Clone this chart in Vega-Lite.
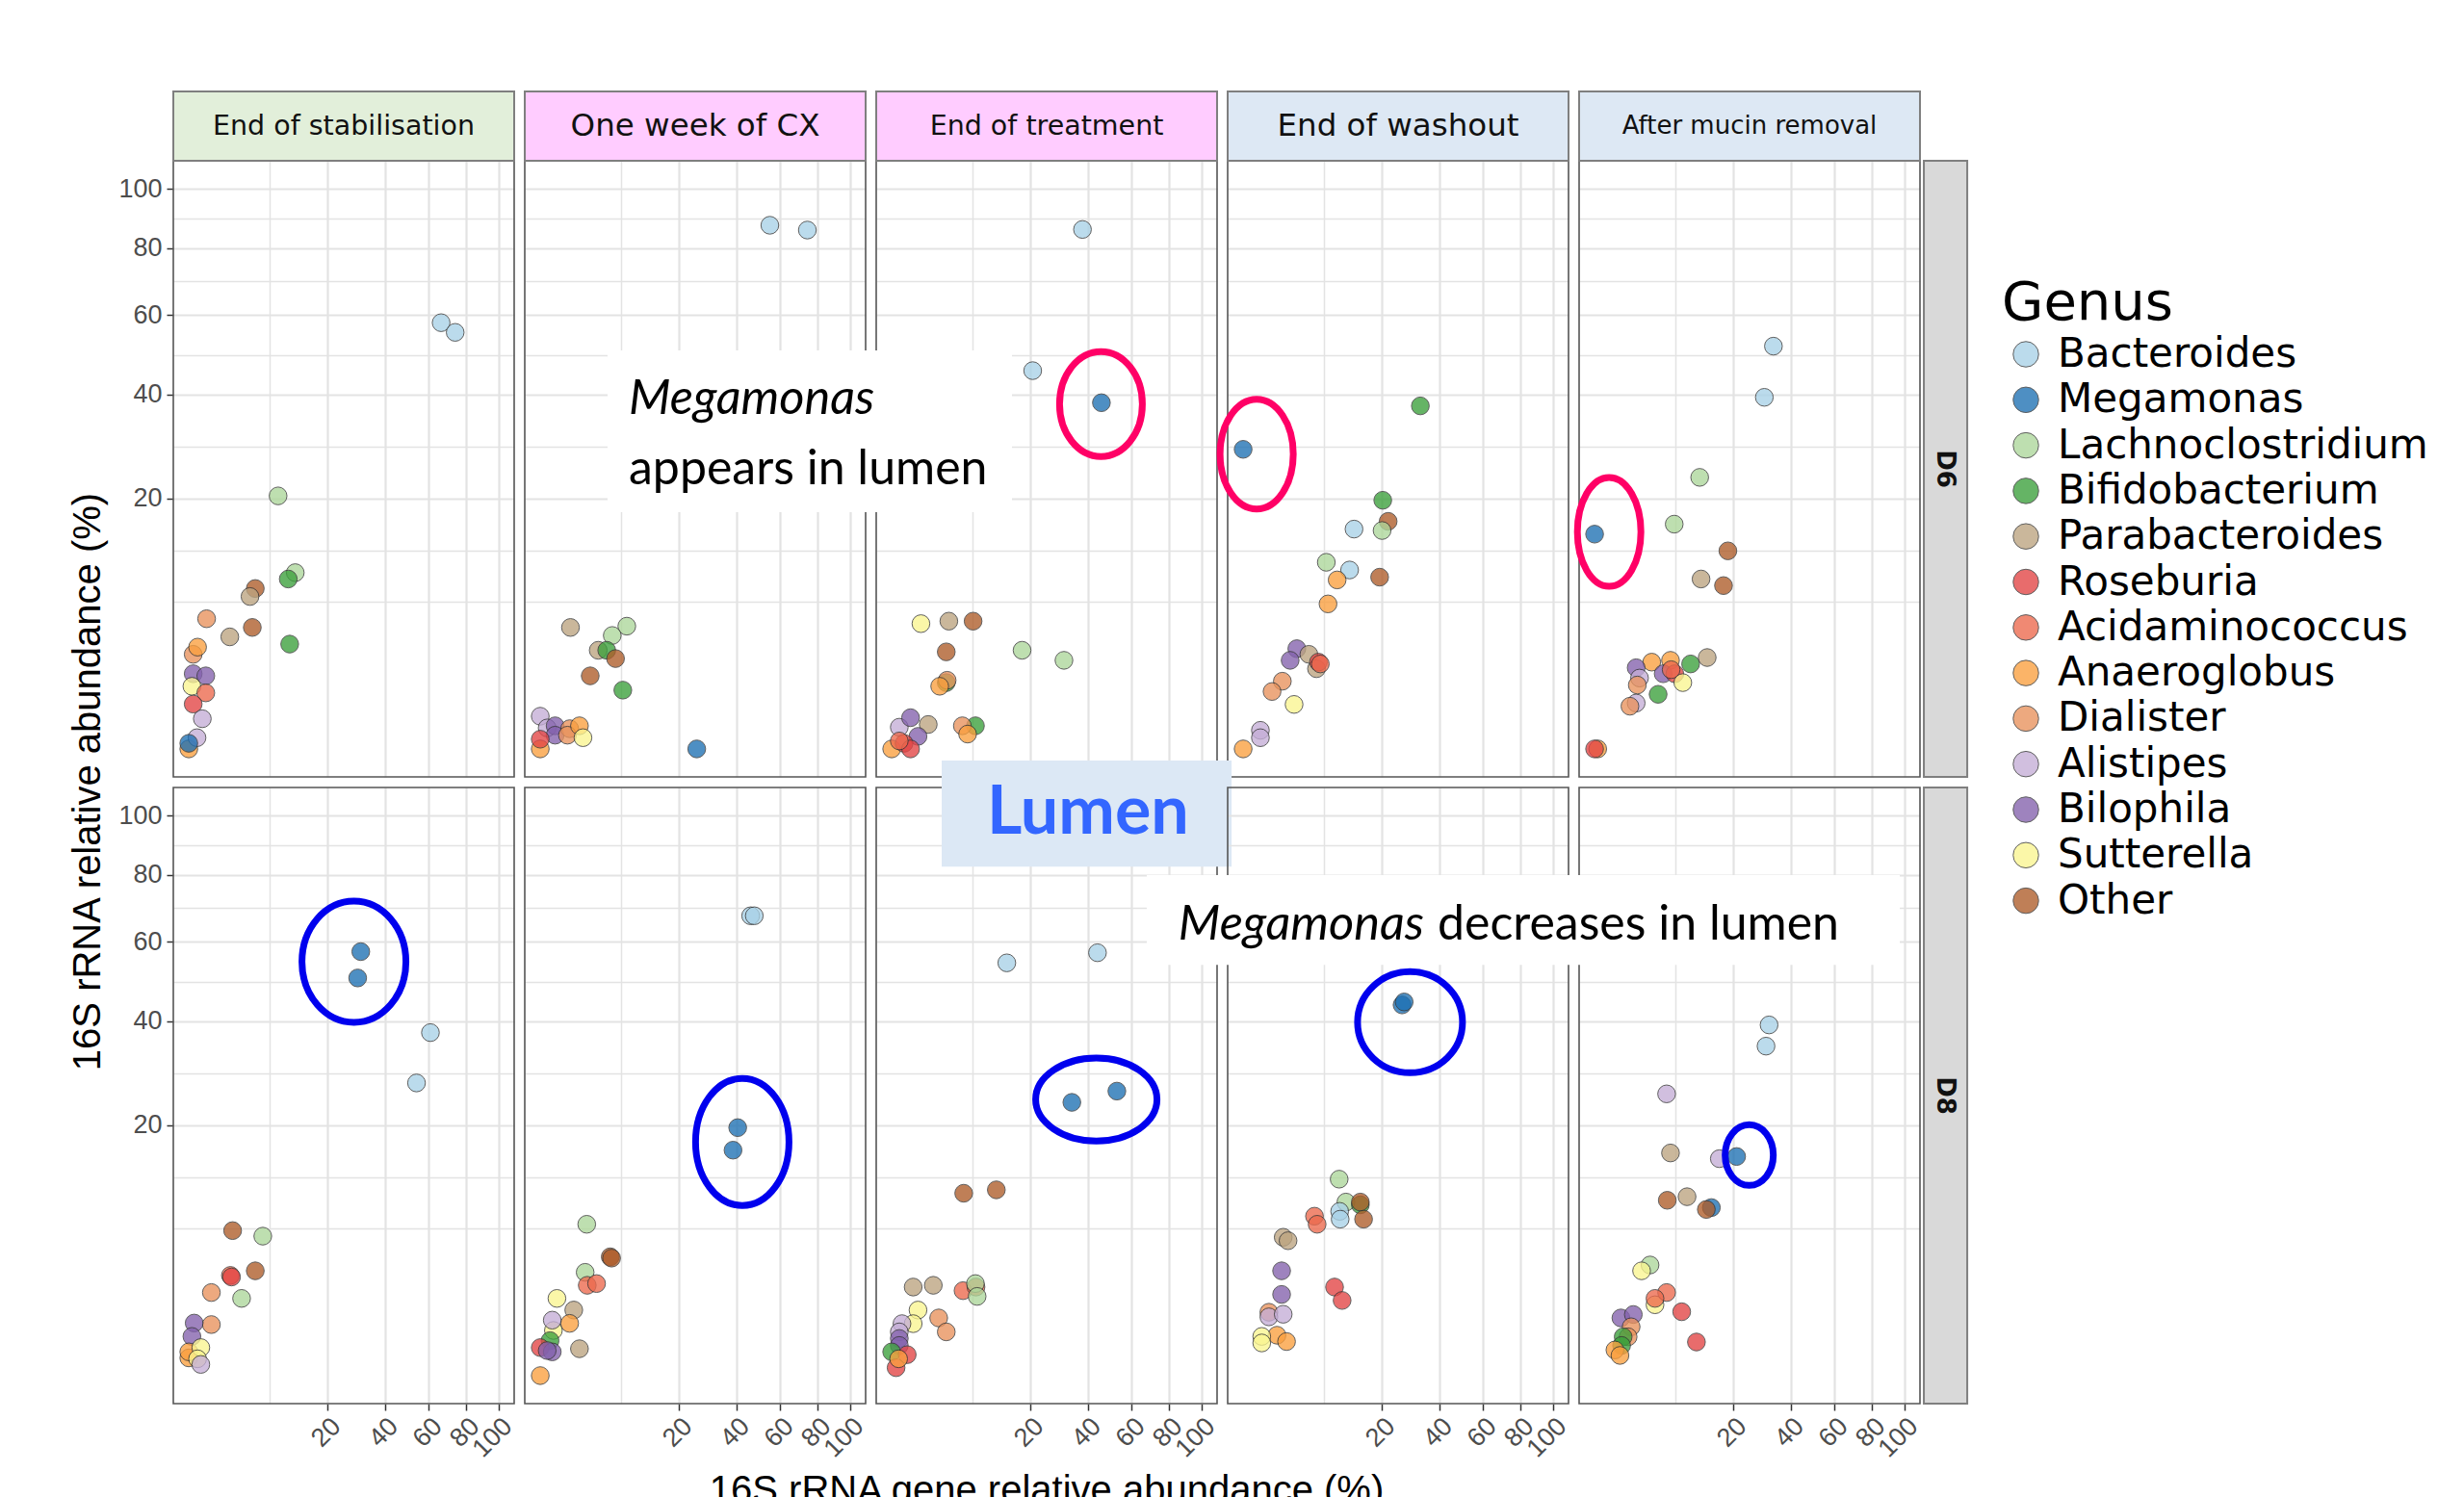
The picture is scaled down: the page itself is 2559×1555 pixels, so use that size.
{
  "$schema": "https://vega.github.io/schema/vega-lite/v6.json",
  "padding": {"left": 71, "top": 93, "right": 0, "bottom": 0},
  "background": "white",
  "data": {"values": [
    {"stage":"End of stabilisation","day":"D6","genus":"Bacteroides","x":66.3,"y":57.9},
    {"stage":"End of stabilisation","day":"D6","genus":"Bacteroides","x":73.9,"y":55.3},
    {"stage":"End of stabilisation","day":"D6","genus":"Lachnoclostridium","x":8.3,"y":20.4},
    {"stage":"End of stabilisation","day":"D6","genus":"Lachnoclostridium","x":11.8,"y":9.9},
    {"stage":"End of stabilisation","day":"D6","genus":"Bifidobacterium","x":10.3,"y":9.2},
    {"stage":"End of stabilisation","day":"D6","genus":"Bifidobacterium","x":10.6,"y":3.5},
    {"stage":"End of stabilisation","day":"D6","genus":"Other","x":4.6,"y":8.2},
    {"stage":"End of stabilisation","day":"D6","genus":"Other","x":4.2,"y":4.7},
    {"stage":"End of stabilisation","day":"D6","genus":"Parabacteroides","x":3.9,"y":7.4},
    {"stage":"End of stabilisation","day":"D6","genus":"Parabacteroides","x":1.75,"y":4.0},
    {"stage":"End of stabilisation","day":"D6","genus":"Dialister","x":0.33,"y":5.4},
    {"stage":"End of stabilisation","day":"D6","genus":"Dialister","x":0.02,"y":2.85},
    {"stage":"End of stabilisation","day":"D6","genus":"Anaeroglobus","x":0.08,"y":3.3},
    {"stage":"End of stabilisation","day":"D6","genus":"Anaeroglobus","x":0,"y":0},
    {"stage":"End of stabilisation","day":"D6","genus":"Bilophila","x":0.02,"y":1.8},
    {"stage":"End of stabilisation","day":"D6","genus":"Bilophila","x":0.3,"y":1.7},
    {"stage":"End of stabilisation","day":"D6","genus":"Sutterella","x":0.01,"y":1.25},
    {"stage":"End of stabilisation","day":"D6","genus":"Acidaminococcus","x":0.3,"y":1.0},
    {"stage":"End of stabilisation","day":"D6","genus":"Roseburia","x":0.02,"y":0.64},
    {"stage":"End of stabilisation","day":"D6","genus":"Alistipes","x":0.19,"y":0.29},
    {"stage":"End of stabilisation","day":"D6","genus":"Alistipes","x":0.07,"y":0.04},
    {"stage":"End of stabilisation","day":"D6","genus":"Megamonas","x":0,"y":0.01},

    {"stage":"One week of CX","day":"D6","genus":"Bacteroides","x":54.9,"y":87.4},
    {"stage":"One week of CX","day":"D6","genus":"Bacteroides","x":74.3,"y":85.8},
    {"stage":"One week of CX","day":"D6","genus":"Parabacteroides","x":0.95,"y":4.7},
    {"stage":"One week of CX","day":"D6","genus":"Parabacteroides","x":3.5,"y":3.1},
    {"stage":"One week of CX","day":"D6","genus":"Lachnoclostridium","x":7.8,"y":4.8},
    {"stage":"One week of CX","day":"D6","genus":"Lachnoclostridium","x":5.4,"y":4.1},
    {"stage":"One week of CX","day":"D6","genus":"Bifidobacterium","x":4.6,"y":3.1},
    {"stage":"One week of CX","day":"D6","genus":"Bifidobacterium","x":7.1,"y":1.1},
    {"stage":"One week of CX","day":"D6","genus":"Other","x":5.9,"y":2.6},
    {"stage":"One week of CX","day":"D6","genus":"Other","x":2.6,"y":1.7},
    {"stage":"One week of CX","day":"D6","genus":"Alistipes","x":0,"y":0.34},
    {"stage":"One week of CX","day":"D6","genus":"Alistipes","x":0.05,"y":0.14},
    {"stage":"One week of CX","day":"D6","genus":"Bilophila","x":0.23,"y":0.17},
    {"stage":"One week of CX","day":"D6","genus":"Bilophila","x":0.23,"y":0.06},
    {"stage":"One week of CX","day":"D6","genus":"Dialister","x":0.9,"y":0.13},
    {"stage":"One week of CX","day":"D6","genus":"Dialister","x":0.77,"y":0.06},
    {"stage":"One week of CX","day":"D6","genus":"Anaeroglobus","x":1.6,"y":0.17},
    {"stage":"One week of CX","day":"D6","genus":"Anaeroglobus","x":0,"y":0},
    {"stage":"One week of CX","day":"D6","genus":"Sutterella","x":1.9,"y":0.04},
    {"stage":"One week of CX","day":"D6","genus":"Roseburia","x":0,"y":0.03},
    {"stage":"One week of CX","day":"D6","genus":"Megamonas","x":25.5,"y":0},

    {"stage":"End of treatment","day":"D6","genus":"Bacteroides","x":37.9,"y":86.0},
    {"stage":"End of treatment","day":"D6","genus":"Bacteroides","x":20.7,"y":45.6},
    {"stage":"End of treatment","day":"D6","genus":"Megamonas","x":45.8,"y":38.2},
    {"stage":"End of treatment","day":"D6","genus":"Sutterella","x":0.89,"y":5.0},
    {"stage":"End of treatment","day":"D6","genus":"Parabacteroides","x":3.4,"y":5.2},
    {"stage":"End of treatment","day":"D6","genus":"Parabacteroides","x":1.39,"y":0.19},
    {"stage":"End of treatment","day":"D6","genus":"Other","x":6.9,"y":5.2},
    {"stage":"End of treatment","day":"D6","genus":"Other","x":3.1,"y":3.0},
    {"stage":"End of treatment","day":"D6","genus":"Lachnoclostridium","x":17.7,"y":3.1},
    {"stage":"End of treatment","day":"D6","genus":"Lachnoclostridium","x":30.9,"y":2.5},
    {"stage":"End of treatment","day":"D6","genus":"Bifidobacterium","x":3.1,"y":1.4},
    {"stage":"End of treatment","day":"D6","genus":"Bifidobacterium","x":7.3,"y":0.17},
    {"stage":"End of treatment","day":"D6","genus":"Dialister","x":3.2,"y":1.5},
    {"stage":"End of treatment","day":"D6","genus":"Dialister","x":5.2,"y":0.17},
    {"stage":"End of treatment","day":"D6","genus":"Anaeroglobus","x":2.4,"y":1.25},
    {"stage":"End of treatment","day":"D6","genus":"Anaeroglobus","x":6.0,"y":0.07},
    {"stage":"End of treatment","day":"D6","genus":"Anaeroglobus","x":0,"y":0},
    {"stage":"End of treatment","day":"D6","genus":"Alistipes","x":0.06,"y":0.15},
    {"stage":"End of treatment","day":"D6","genus":"Bilophila","x":0.37,"y":0.31},
    {"stage":"End of treatment","day":"D6","genus":"Bilophila","x":0.72,"y":0.05},
    {"stage":"End of treatment","day":"D6","genus":"Roseburia","x":0.16,"y":0.01},
    {"stage":"End of treatment","day":"D6","genus":"Roseburia","x":0.37,"y":0},
    {"stage":"End of treatment","day":"D6","genus":"Acidaminococcus","x":0.06,"y":0.02},

    {"stage":"End of washout","day":"D6","genus":"Megamonas","x":0,"y":28.6},
    {"stage":"End of washout","day":"D6","genus":"Bifidobacterium","x":32.7,"y":37.5},
    {"stage":"End of washout","day":"D6","genus":"Bifidobacterium","x":20.3,"y":19.7},
    {"stage":"End of washout","day":"D6","genus":"Other","x":21.9,"y":16.5},
    {"stage":"End of washout","day":"D6","genus":"Other","x":19.4,"y":9.4},
    {"stage":"End of washout","day":"D6","genus":"Lachnoclostridium","x":20.1,"y":15.2},
    {"stage":"End of washout","day":"D6","genus":"Lachnoclostridium","x":7.2,"y":11.1},
    {"stage":"End of washout","day":"D6","genus":"Bacteroides","x":12.8,"y":15.4},
    {"stage":"End of washout","day":"D6","genus":"Bacteroides","x":11.8,"y":10.2},
    {"stage":"End of washout","day":"D6","genus":"Anaeroglobus","x":9.2,"y":9.1},
    {"stage":"End of washout","day":"D6","genus":"Anaeroglobus","x":7.5,"y":6.7},
    {"stage":"End of washout","day":"D6","genus":"Anaeroglobus","x":0,"y":0},
    {"stage":"End of washout","day":"D6","genus":"Bilophila","x":3.0,"y":3.2},
    {"stage":"End of washout","day":"D6","genus":"Bilophila","x":2.3,"y":2.5},
    {"stage":"End of washout","day":"D6","genus":"Parabacteroides","x":4.5,"y":2.85},
    {"stage":"End of washout","day":"D6","genus":"Parabacteroides","x":5.6,"y":2.05},
    {"stage":"End of washout","day":"D6","genus":"Roseburia","x":5.9,"y":2.4},
    {"stage":"End of washout","day":"D6","genus":"Acidaminococcus","x":6.2,"y":2.3},
    {"stage":"End of washout","day":"D6","genus":"Dialister","x":1.6,"y":1.46},
    {"stage":"End of washout","day":"D6","genus":"Dialister","x":0.87,"y":1.05},
    {"stage":"End of washout","day":"D6","genus":"Sutterella","x":2.7,"y":0.63},
    {"stage":"End of washout","day":"D6","genus":"Alistipes","x":0.31,"y":0.11},
    {"stage":"End of washout","day":"D6","genus":"Alistipes","x":0.31,"y":0.04},

    {"stage":"After mucin removal","day":"D6","genus":"Bacteroides","x":33.3,"y":51.7},
    {"stage":"After mucin removal","day":"D6","genus":"Bacteroides","x":30.0,"y":39.4},
    {"stage":"After mucin removal","day":"D6","genus":"Lachnoclostridium","x":11.5,"y":23.5},
    {"stage":"After mucin removal","day":"D6","genus":"Lachnoclostridium","x":6.6,"y":16.1},
    {"stage":"After mucin removal","day":"D6","genus":"Megamonas","x":0,"y":14.7},
    {"stage":"After mucin removal","day":"D6","genus":"Other","x":18.5,"y":12.5},
    {"stage":"After mucin removal","day":"D6","genus":"Other","x":17.3,"y":8.5},
    {"stage":"After mucin removal","day":"D6","genus":"Parabacteroides","x":11.8,"y":9.2},
    {"stage":"After mucin removal","day":"D6","genus":"Parabacteroides","x":13.2,"y":2.66},
    {"stage":"After mucin removal","day":"D6","genus":"Bifidobacterium","x":9.6,"y":2.3},
    {"stage":"After mucin removal","day":"D6","genus":"Bifidobacterium","x":4.2,"y":0.95},
    {"stage":"After mucin removal","day":"D6","genus":"Anaeroglobus","x":6.0,"y":2.5},
    {"stage":"After mucin removal","day":"D6","genus":"Anaeroglobus","x":3.4,"y":2.4},
    {"stage":"After mucin removal","day":"D6","genus":"Anaeroglobus","x":0.01,"y":0},
    {"stage":"After mucin removal","day":"D6","genus":"Bilophila","x":1.8,"y":2.1},
    {"stage":"After mucin removal","day":"D6","genus":"Bilophila","x":4.9,"y":1.8},
    {"stage":"After mucin removal","day":"D6","genus":"Alistipes","x":2.1,"y":1.6},
    {"stage":"After mucin removal","day":"D6","genus":"Alistipes","x":1.8,"y":0.67},
    {"stage":"After mucin removal","day":"D6","genus":"Roseburia","x":6.7,"y":1.8},
    {"stage":"After mucin removal","day":"D6","genus":"Roseburia","x":0,"y":0},
    {"stage":"After mucin removal","day":"D6","genus":"Acidaminococcus","x":6.1,"y":2.0},
    {"stage":"After mucin removal","day":"D6","genus":"Sutterella","x":8.1,"y":1.4},
    {"stage":"After mucin removal","day":"D6","genus":"Dialister","x":1.9,"y":1.3},
    {"stage":"After mucin removal","day":"D6","genus":"Dialister","x":1.3,"y":0.58},

    {"stage":"End of stabilisation","day":"D8","genus":"Megamonas","x":30.8,"y":57.3},
    {"stage":"End of stabilisation","day":"D8","genus":"Megamonas","x":29.7,"y":50.4},
    {"stage":"End of stabilisation","day":"D8","genus":"Bacteroides","x":60.8,"y":37.5},
    {"stage":"End of stabilisation","day":"D8","genus":"Bacteroides","x":54.0,"y":27.3},
    {"stage":"End of stabilisation","day":"D8","genus":"Other","x":2.0,"y":6.7},
    {"stage":"End of stabilisation","day":"D8","genus":"Other","x":4.6,"y":3.5},
    {"stage":"End of stabilisation","day":"D8","genus":"Lachnoclostridium","x":5.7,"y":6.2},
    {"stage":"End of stabilisation","day":"D8","genus":"Lachnoclostridium","x":2.9,"y":1.9},
    {"stage":"End of stabilisation","day":"D8","genus":"Acidaminococcus","x":1.8,"y":3.2},
    {"stage":"End of stabilisation","day":"D8","genus":"Roseburia","x":1.9,"y":3.1},
    {"stage":"End of stabilisation","day":"D8","genus":"Dialister","x":0.53,"y":2.2},
    {"stage":"End of stabilisation","day":"D8","genus":"Dialister","x":0.53,"y":0.83},
    {"stage":"End of stabilisation","day":"D8","genus":"Anaeroglobus","x":0,"y":0.1},
    {"stage":"End of stabilisation","day":"D8","genus":"Bilophila","x":0.03,"y":0.88},
    {"stage":"End of stabilisation","day":"D8","genus":"Bilophila","x":0.01,"y":0.49},
    {"stage":"End of stabilisation","day":"D8","genus":"Anaeroglobus","x":0,"y":0.18},
    {"stage":"End of stabilisation","day":"D8","genus":"Sutterella","x":0.15,"y":0.25},
    {"stage":"End of stabilisation","day":"D8","genus":"Sutterella","x":0.08,"y":0.09},
    {"stage":"End of stabilisation","day":"D8","genus":"Alistipes","x":0.15,"y":0.04},

    {"stage":"One week of CX","day":"D8","genus":"Bacteroides","x":46.1,"y":67.4},
    {"stage":"One week of CX","day":"D8","genus":"Bacteroides","x":47.7,"y":67.4},
    {"stage":"One week of CX","day":"D8","genus":"Megamonas","x":40.6,"y":19.6},
    {"stage":"One week of CX","day":"D8","genus":"Megamonas","x":38.7,"y":16.2},
    {"stage":"One week of CX","day":"D8","genus":"Lachnoclostridium","x":2.25,"y":7.3},
    {"stage":"One week of CX","day":"D8","genus":"Lachnoclostridium","x":2.1,"y":3.4},
    {"stage":"One week of CX","day":"D8","genus":"Other","x":5.1,"y":4.5},
    {"stage":"One week of CX","day":"D8","genus":"Other","x":5.3,"y":4.4},
    {"stage":"One week of CX","day":"D8","genus":"Acidaminococcus","x":2.3,"y":2.6},
    {"stage":"One week of CX","day":"D8","genus":"Acidaminococcus","x":3.3,"y":2.7},
    {"stage":"One week of CX","day":"D8","genus":"Sutterella","x":0.29,"y":1.9},
    {"stage":"One week of CX","day":"D8","genus":"Sutterella","x":0.18,"y":0.65},
    {"stage":"One week of CX","day":"D8","genus":"Parabacteroides","x":1.17,"y":1.37},
    {"stage":"One week of CX","day":"D8","genus":"Parabacteroides","x":1.6,"y":0.23},
    {"stage":"One week of CX","day":"D8","genus":"Alistipes","x":0.15,"y":0.98},
    {"stage":"One week of CX","day":"D8","genus":"Anaeroglobus","x":0.9,"y":0.87},
    {"stage":"One week of CX","day":"D8","genus":"Anaeroglobus","x":0,"y":0},
    {"stage":"One week of CX","day":"D8","genus":"Bifidobacterium","x":0.1,"y":0.39},
    {"stage":"One week of CX","day":"D8","genus":"Roseburia","x":0,"y":0.25},
    {"stage":"One week of CX","day":"D8","genus":"Bilophila","x":0.15,"y":0.18},
    {"stage":"One week of CX","day":"D8","genus":"Bilophila","x":0.05,"y":0.2},

    {"stage":"End of treatment","day":"D8","genus":"Bacteroides","x":13.8,"y":54.3},
    {"stage":"End of treatment","day":"D8","genus":"Bacteroides","x":44.1,"y":57.0},
    {"stage":"End of treatment","day":"D8","genus":"Megamonas","x":33.8,"y":23.8},
    {"stage":"End of treatment","day":"D8","genus":"Megamonas","x":52.8,"y":25.8},
    {"stage":"End of treatment","day":"D8","genus":"Other","x":5.4,"y":10.6},
    {"stage":"End of treatment","day":"D8","genus":"Other","x":11.4,"y":11.0},
    {"stage":"End of treatment","day":"D8","genus":"Parabacteroides","x":0.48,"y":2.5},
    {"stage":"End of treatment","day":"D8","genus":"Parabacteroides","x":1.8,"y":2.6},
    {"stage":"End of treatment","day":"D8","genus":"Acidaminococcus","x":5.3,"y":2.3},
    {"stage":"End of treatment","day":"D8","genus":"Acidaminococcus","x":7.4,"y":2.5},
    {"stage":"End of treatment","day":"D8","genus":"Lachnoclostridium","x":7.3,"y":2.7},
    {"stage":"End of treatment","day":"D8","genus":"Lachnoclostridium","x":7.6,"y":2.0},
    {"stage":"End of treatment","day":"D8","genus":"Sutterella","x":0.72,"y":1.37},
    {"stage":"End of treatment","day":"D8","genus":"Sutterella","x":0.48,"y":0.86},
    {"stage":"End of treatment","day":"D8","genus":"Dialister","x":2.3,"y":1.06},
    {"stage":"End of treatment","day":"D8","genus":"Dialister","x":3.1,"y":0.61},
    {"stage":"End of treatment","day":"D8","genus":"Alistipes","x":0.11,"y":0.86},
    {"stage":"End of treatment","day":"D8","genus":"Alistipes","x":0.06,"y":0.61},
    {"stage":"End of treatment","day":"D8","genus":"Bilophila","x":0.06,"y":0.44},
    {"stage":"End of treatment","day":"D8","genus":"Bilophila","x":0.06,"y":0.29},
    {"stage":"End of treatment","day":"D8","genus":"Bifidobacterium","x":0,"y":0.18},
    {"stage":"End of treatment","day":"D8","genus":"Roseburia","x":0.25,"y":0.14},
    {"stage":"End of treatment","day":"D8","genus":"Roseburia","x":0.02,"y":0.02},
    {"stage":"End of treatment","day":"D8","genus":"Anaeroglobus","x":0.05,"y":0.09},

    {"stage":"End of washout","day":"D8","genus":"Megamonas","x":26.3,"y":43.8},
    {"stage":"End of washout","day":"D8","genus":"Megamonas","x":27.0,"y":44.5},
    {"stage":"End of washout","day":"D8","genus":"Lachnoclostridium","x":9.6,"y":12.3},
    {"stage":"End of washout","day":"D8","genus":"Lachnoclostridium","x":11.0,"y":9.6},
    {"stage":"End of washout","day":"D8","genus":"Bifidobacterium","x":14.3,"y":9.3},
    {"stage":"End of washout","day":"D8","genus":"Other","x":14.3,"y":9.6},
    {"stage":"End of washout","day":"D8","genus":"Other","x":15.1,"y":7.8},
    {"stage":"End of washout","day":"D8","genus":"Bacteroides","x":9.7,"y":8.6},
    {"stage":"End of washout","day":"D8","genus":"Bacteroides","x":9.8,"y":7.8},
    {"stage":"End of washout","day":"D8","genus":"Acidaminococcus","x":5.3,"y":8.1},
    {"stage":"End of washout","day":"D8","genus":"Acidaminococcus","x":5.7,"y":7.3},
    {"stage":"End of washout","day":"D8","genus":"Parabacteroides","x":1.67,"y":6.1},
    {"stage":"End of washout","day":"D8","genus":"Parabacteroides","x":2.1,"y":5.8},
    {"stage":"End of washout","day":"D8","genus":"Bilophila","x":1.54,"y":3.5},
    {"stage":"End of washout","day":"D8","genus":"Bilophila","x":1.54,"y":2.1},
    {"stage":"End of washout","day":"D8","genus":"Roseburia","x":8.7,"y":2.5},
    {"stage":"End of washout","day":"D8","genus":"Roseburia","x":10.2,"y":1.8},
    {"stage":"End of washout","day":"D8","genus":"Dialister","x":0.69,"y":1.28},
    {"stage":"End of washout","day":"D8","genus":"Alistipes","x":0.69,"y":1.1},
    {"stage":"End of washout","day":"D8","genus":"Alistipes","x":1.67,"y":1.2},
    {"stage":"End of washout","day":"D8","genus":"Anaeroglobus","x":1.19,"y":0.52},
    {"stage":"End of washout","day":"D8","genus":"Anaeroglobus","x":1.96,"y":0.37},
    {"stage":"End of washout","day":"D8","genus":"Sutterella","x":0.36,"y":0.49},
    {"stage":"End of washout","day":"D8","genus":"Sutterella","x":0.36,"y":0.34},

    {"stage":"After mucin removal","day":"D8","genus":"Bacteroides","x":31.7,"y":39.2},
    {"stage":"After mucin removal","day":"D8","genus":"Bacteroides","x":30.6,"y":34.6},
    {"stage":"After mucin removal","day":"D8","genus":"Alistipes","x":5.4,"y":25.3},
    {"stage":"After mucin removal","day":"D8","genus":"Alistipes","x":16.2,"y":15.0},
    {"stage":"After mucin removal","day":"D8","genus":"Parabacteroides","x":6.0,"y":15.8},
    {"stage":"After mucin removal","day":"D8","genus":"Parabacteroides","x":8.9,"y":10.2},
    {"stage":"After mucin removal","day":"D8","genus":"Megamonas","x":21.0,"y":15.3},
    {"stage":"After mucin removal","day":"D8","genus":"Megamonas","x":14.2,"y":9.0},
    {"stage":"After mucin removal","day":"D8","genus":"Other","x":5.5,"y":9.8},
    {"stage":"After mucin removal","day":"D8","genus":"Other","x":13.0,"y":8.8},
    {"stage":"After mucin removal","day":"D8","genus":"Lachnoclostridium","x":3.2,"y":3.9},
    {"stage":"After mucin removal","day":"D8","genus":"Sutterella","x":2.3,"y":3.5},
    {"stage":"After mucin removal","day":"D8","genus":"Sutterella","x":3.8,"y":1.6},
    {"stage":"After mucin removal","day":"D8","genus":"Acidaminococcus","x":5.4,"y":2.2},
    {"stage":"After mucin removal","day":"D8","genus":"Acidaminococcus","x":3.8,"y":1.9},
    {"stage":"After mucin removal","day":"D8","genus":"Roseburia","x":7.9,"y":1.3},
    {"stage":"After mucin removal","day":"D8","genus":"Roseburia","x":10.8,"y":0.36},
    {"stage":"After mucin removal","day":"D8","genus":"Bilophila","x":0.72,"y":1.06},
    {"stage":"After mucin removal","day":"D8","genus":"Bilophila","x":1.56,"y":1.19},
    {"stage":"After mucin removal","day":"D8","genus":"Dialister","x":1.39,"y":0.76},
    {"stage":"After mucin removal","day":"D8","genus":"Dialister","x":1.17,"y":0.48},
    {"stage":"After mucin removal","day":"D8","genus":"Bifidobacterium","x":0.85,"y":0.48},
    {"stage":"After mucin removal","day":"D8","genus":"Bifidobacterium","x":0.76,"y":0.29},
    {"stage":"After mucin removal","day":"D8","genus":"Anaeroglobus","x":0.43,"y":0.21},
    {"stage":"After mucin removal","day":"D8","genus":"Anaeroglobus","x":0.67,"y":0.13},

    {"stage":"End of treatment","day":"D6","kind":"ell","id":"e1","x":45.6,"y":37.9},
    {"stage":"End of washout","day":"D6","kind":"ell","id":"e2","x":0.19,"y":27.7},
    {"stage":"After mucin removal","day":"D6","kind":"ell","id":"e3","x":0.22,"y":15.0},
    {"stage":"End of stabilisation","day":"D8","kind":"ell","id":"e4","x":28.4,"y":54.6},
    {"stage":"One week of CX","day":"D8","kind":"ell","id":"e5","x":42.5,"y":17.4},
    {"stage":"End of treatment","day":"D8","kind":"ell","id":"e6","x":43.6,"y":24.3},
    {"stage":"End of washout","day":"D8","kind":"ell","id":"e7","x":29.0,"y":39.8},
    {"stage":"After mucin removal","day":"D8","kind":"ell","id":"e8","x":24.9,"y":15.5},

    {"stage":"End of treatment","day":"D6","kind":"box","id":"b1","x":-84.1,"x2":15.05,"y":50.6,"y2":17.86},
    {"stage":"End of treatment","day":"D8","kind":"box","id":"b2","x":2.6,"x2":120.3,"y":120.6,"y2":82.6},
    {"stage":"After mucin removal","day":"D8","kind":"box","id":"b3","x":-208.9,"x2":97.0,"y":79.85,"y2":53.8},

    {"stage":"End of treatment","day":"D6","kind":"txt","id":"t1","label":"Megamonas","x":-72.0,"y":35.76},
    {"stage":"End of treatment","day":"D6","kind":"txt","id":"t2","label":"appears in lumen","x":-72.0,"y":22.4},
    {"stage":"End of treatment","day":"D8","kind":"txt","id":"t3","label":"Lumen","x":40.1,"y":100.7},
    {"stage":"After mucin removal","day":"D8","kind":"txt","id":"t4","label":"Megamonas","x":-30.28,"y":60.6},
    {"stage":"After mucin removal","day":"D8","kind":"txt","id":"t5","label":"decreases in lumen","x":-25.69,"y":60.6}
  ]},
  "facet": {
    "row": {"field": "day", "type": "nominal", "header": {"labels": false, "title": "16S rRNA relative abundance (%)", "titlePadding": 0}},
    "column": {"field": "stage", "type": "nominal", "sort": ["End of stabilisation", "One week of CX", "End of treatment", "End of washout", "After mucin removal"], "header": {"labels": false, "title": "16S rRNA gene relative abundance (%)", "titleOrient": "bottom", "titlePadding": 0}}
  },
  "spacing": {"row": 11, "column": 11},
  "bounds": "flush",
  "spec": {
    "width": 354,
    "height": 640,
    "layer": [
      {
        "transform": [{"aggregate": [{"op": "count", "as": "n"}], "groupby": ["stage", "day"]}, {"filter": "datum.day === 'D8' && datum.stage === 'End of stabilisation'"}],
        "mark": {"type": "rect", "fill": "#ffffff", "fillOpacity": 0, "strokeOpacity": 0},
        "encoding": {
          "x": {"datum": -4.22, "type": "quantitative"}, "x2": {"datum": -0.25},
          "y": {"datum": -3.02, "type": "quantitative"}, "y2": {"datum": -0.25}
        }
      },
      {
        "transform": [{"aggregate": [{"op": "count", "as": "n"}], "groupby": ["stage", "day"]}],
        "mark": {"type": "rect", "filled": false, "stroke": "#555555", "strokeWidth": 1.6},
        "encoding": {
          "x": {"datum": -0.25, "type": "quantitative"}, "x2": {"datum": 110.25},
          "y": {"datum": -0.25, "type": "quantitative"}, "y2": {"datum": 110.25}
        }
      },
      {
        "transform": [{"aggregate": [{"op": "count", "as": "n"}], "groupby": ["stage", "day"]}, {"filter": "datum.day === 'D6'"}],
        "mark": {"type": "rect", "stroke": "#7f7f7f", "strokeWidth": 2},
        "encoding": {
          "x": {"datum": -0.25, "type": "quantitative"}, "x2": {"datum": 110.25},
          "y": {"datum": 110.25, "type": "quantitative"}, "y2": {"datum": 137.8},
          "fill": {"condition": [
            {"test": "datum.stage === 'End of stabilisation'", "value": "#e2efda"},
            {"test": "datum.stage === 'One week of CX' || datum.stage === 'End of treatment'", "value": "#ffccff"}
          ], "value": "#dde8f4"}
        }
      },
      {
        "transform": [{"aggregate": [{"op": "count", "as": "n"}], "groupby": ["stage", "day"]}, {"filter": "datum.day === 'D6' && (datum.stage === 'End of stabilisation' || datum.stage === 'End of treatment')"}],
        "mark": {"type": "text", "font": "DejaVu Sans", "fontSize": 28.5, "align": "center", "baseline": "middle", "color": "#111111"},
        "encoding": {
          "x": {"datum": 25, "type": "quantitative"},
          "y": {"datum": 123.6, "type": "quantitative"},
          "text": {"field": "stage"}
        }
      },
      {
        "transform": [{"aggregate": [{"op": "count", "as": "n"}], "groupby": ["stage", "day"]}, {"filter": "datum.day === 'D6' && (datum.stage === 'One week of CX' || datum.stage === 'End of washout')"}],
        "mark": {"type": "text", "font": "DejaVu Sans", "fontSize": 32.5, "align": "center", "baseline": "middle", "color": "#111111"},
        "encoding": {
          "x": {"datum": 25, "type": "quantitative"},
          "y": {"datum": 123.6, "type": "quantitative"},
          "text": {"field": "stage"}
        }
      },
      {
        "transform": [{"aggregate": [{"op": "count", "as": "n"}], "groupby": ["stage", "day"]}, {"filter": "datum.day === 'D6' && datum.stage === 'After mucin removal'"}],
        "mark": {"type": "text", "font": "DejaVu Sans", "fontSize": 26, "align": "center", "baseline": "middle", "color": "#111111"},
        "encoding": {
          "x": {"datum": 25, "type": "quantitative"},
          "y": {"datum": 123.6, "type": "quantitative"},
          "text": {"field": "stage"}
        }
      },
      {
        "transform": [{"aggregate": [{"op": "count", "as": "n"}], "groupby": ["stage", "day"]}, {"filter": "datum.stage === 'After mucin removal'"}],
        "mark": {"type": "rect", "fill": "#d9d9d9", "stroke": "#7f7f7f", "strokeWidth": 2},
        "encoding": {
          "x": {"datum": 112.9, "type": "quantitative"}, "x2": {"datum": 144.6},
          "y": {"datum": -0.25, "type": "quantitative"}, "y2": {"datum": 110.25}
        }
      },
      {
        "transform": [{"aggregate": [{"op": "count", "as": "n"}], "groupby": ["stage", "day"]}, {"filter": "datum.stage === 'After mucin removal'"}],
        "mark": {"type": "text", "font": "DejaVu Sans", "fontWeight": "bold", "fontSize": 26, "angle": 90, "align": "center", "baseline": "middle", "color": "#111111"},
        "encoding": {
          "x": {"datum": 128.2, "type": "quantitative"},
          "y": {"datum": 25, "type": "quantitative"},
          "text": {"field": "day"}
        }
      },
      {
        "transform": [{"filter": "isValid(datum.genus)"}],
        "mark": {"type": "point", "filled": true, "size": 340, "opacity": 0.78, "stroke": "#333333", "strokeWidth": 1},
        "encoding": {
          "x": {"field": "x", "type": "quantitative",
            "scale": {"type": "sqrt", "domain": [-0.25, 110.25], "nice": false, "zero": false},
            "axis": {"title": null, "grid": true, "values": [6.8623, 12.573, 20, 29.142, 40, 49.495, 60, 69.642, 80, 89.721, 100],
              "labelExpr": "indexof([20,40,60,80,100], datum.value) >= 0 ? datum.label : ''",
              "labelAngle": -45, "labelAlign": "right", "labelBaseline": "top", "labelPadding": 3,
              "tickColor": {"condition": {"test": "indexof([20,40,60,80,100], datum.value) >= 0", "value": "#333333"}, "value": "transparent"},
              "gridColor": "#e3e3e3",
              "gridWidth": {"condition": {"test": "indexof([20,40,60,80,100], datum.value) >= 0", "value": 2.2}, "value": 1.5}}},
          "y": {"field": "y", "type": "quantitative",
            "scale": {"type": "sqrt", "domain": [-0.25, 110.25], "nice": false, "zero": false},
            "axis": {"title": null, "grid": true, "values": [6.8623, 12.573, 20, 29.142, 40, 49.495, 60, 69.642, 80, 89.721, 100],
              "labelExpr": "indexof([20,40,60,80,100], datum.value) >= 0 ? datum.label : ''",
              "labelPadding": 5,
              "tickColor": {"condition": {"test": "indexof([20,40,60,80,100], datum.value) >= 0", "value": "#333333"}, "value": "transparent"},
              "gridColor": "#e3e3e3",
              "gridWidth": {"condition": {"test": "indexof([20,40,60,80,100], datum.value) >= 0", "value": 2.2}, "value": 1.5}}},
          "color": {"field": "genus", "type": "nominal", "title": "Genus",
            "scale": {
              "domain": ["Bacteroides", "Megamonas", "Lachnoclostridium", "Bifidobacterium", "Parabacteroides", "Roseburia", "Acidaminococcus", "Anaeroglobus", "Dialister", "Alistipes", "Bilophila", "Sutterella", "Other"],
              "range": ["#a9d2e7", "#1d70b3", "#add79a", "#3ba03b", "#bca480", "#e24444", "#ec694d", "#fa9f3e", "#e9925c", "#c5aed7", "#8361ad", "#faf590", "#ae5c29"]
            }}
        }
      },
      {
        "transform": [{"filter": "datum.kind === 'box'"}],
        "mark": {"type": "rect"},
        "encoding": {
          "x": {"field": "x", "type": "quantitative"}, "x2": {"field": "x2"},
          "y": {"field": "y", "type": "quantitative"}, "y2": {"field": "y2"},
          "fill": {"condition": {"test": "datum.id === 'b2'", "value": "#dce8f5"}, "value": "#ffffff"}
        }
      },
      {
        "transform": [{"filter": "datum.id === 'e1'"}],
        "mark": {"type": "point", "shape": "M0,-1A0.789,1,0,1,1,0,1A0.789,1,0,1,1,0,-1Z", "size": 11881, "filled": false, "stroke": "#ff0066", "strokeWidth": 7, "opacity": 1},
        "encoding": {"x": {"field": "x", "type": "quantitative"}, "y": {"field": "y", "type": "quantitative"}}
      },
      {
        "transform": [{"filter": "datum.id === 'e2'"}],
        "mark": {"type": "point", "shape": "M0,-1A0.667,1,0,1,1,0,1A0.667,1,0,1,1,0,-1Z", "size": 12996, "filled": false, "stroke": "#ff0066", "strokeWidth": 7, "opacity": 1},
        "encoding": {"x": {"field": "x", "type": "quantitative"}, "y": {"field": "y", "type": "quantitative"}}
      },
      {
        "transform": [{"filter": "datum.id === 'e3'"}],
        "mark": {"type": "point", "shape": "M0,-1A0.584,1,0,1,1,0,1A0.584,1,0,1,1,0,-1Z", "size": 12769, "filled": false, "stroke": "#ff0066", "strokeWidth": 7, "opacity": 1},
        "encoding": {"x": {"field": "x", "type": "quantitative"}, "y": {"field": "y", "type": "quantitative"}}
      },
      {
        "transform": [{"filter": "datum.id === 'e4'"}],
        "mark": {"type": "point", "shape": "M0,-1A0.857,1,0,1,1,0,1A0.857,1,0,1,1,0,-1Z", "size": 15876, "filled": false, "stroke": "#0000ee", "strokeWidth": 7, "opacity": 1},
        "encoding": {"x": {"field": "x", "type": "quantitative"}, "y": {"field": "y", "type": "quantitative"}}
      },
      {
        "transform": [{"filter": "datum.id === 'e5'"}],
        "mark": {"type": "point", "shape": "M0,-1A0.735,1,0,1,1,0,1A0.735,1,0,1,1,0,-1Z", "size": 17424, "filled": false, "stroke": "#0000ee", "strokeWidth": 7, "opacity": 1},
        "encoding": {"x": {"field": "x", "type": "quantitative"}, "y": {"field": "y", "type": "quantitative"}}
      },
      {
        "transform": [{"filter": "datum.id === 'e6'"}],
        "mark": {"type": "point", "shape": "M-1,0A1,0.683,0,1,1,1,0A1,0.683,0,1,1,-1,0Z", "size": 15876, "filled": false, "stroke": "#0000ee", "strokeWidth": 7, "opacity": 1},
        "encoding": {"x": {"field": "x", "type": "quantitative"}, "y": {"field": "y", "type": "quantitative"}}
      },
      {
        "transform": [{"filter": "datum.id === 'e7'"}],
        "mark": {"type": "point", "shape": "M-1,0A1,0.963,0,1,1,1,0A1,0.963,0,1,1,-1,0Z", "size": 11881, "filled": false, "stroke": "#0000ee", "strokeWidth": 7, "opacity": 1},
        "encoding": {"x": {"field": "x", "type": "quantitative"}, "y": {"field": "y", "type": "quantitative"}}
      },
      {
        "transform": [{"filter": "datum.id === 'e8'"}],
        "mark": {"type": "point", "shape": "M0,-1A0.794,1,0,1,1,0,1A0.794,1,0,1,1,0,-1Z", "size": 3969, "filled": false, "stroke": "#0000ee", "strokeWidth": 7, "opacity": 1},
        "encoding": {"x": {"field": "x", "type": "quantitative"}, "y": {"field": "y", "type": "quantitative"}}
      },
      {
        "transform": [{"filter": "datum.id === 't1'"}],
        "mark": {"type": "text", "font": "Lato", "fontStyle": "italic", "fontSize": 50.5, "align": "left", "baseline": "alphabetic", "color": "#000000"},
        "encoding": {"x": {"field": "x", "type": "quantitative"}, "y": {"field": "y", "type": "quantitative"}, "text": {"field": "label"}}
      },
      {
        "transform": [{"filter": "datum.id === 't4'"}],
        "mark": {"type": "text", "font": "Lato", "fontStyle": "italic", "fontSize": 50.5, "align": "right", "baseline": "alphabetic", "color": "#000000"},
        "encoding": {"x": {"field": "x", "type": "quantitative"}, "y": {"field": "y", "type": "quantitative"}, "text": {"field": "label"}}
      },
      {
        "transform": [{"filter": "datum.id === 't2' || datum.id === 't5'"}],
        "mark": {"type": "text", "font": "Lato", "fontSize": 50, "align": "left", "baseline": "alphabetic", "color": "#000000"},
        "encoding": {"x": {"field": "x", "type": "quantitative"}, "y": {"field": "y", "type": "quantitative"}, "text": {"field": "label"}}
      },
      {
        "transform": [{"filter": "datum.id === 't3'"}],
        "mark": {"type": "text", "font": "Lato", "fontWeight": "bold", "fontSize": 70, "align": "center", "baseline": "middle", "color": "#3366ff"},
        "encoding": {"x": {"field": "x", "type": "quantitative"}, "y": {"field": "y", "type": "quantitative"}, "text": {"field": "label"}}
      }
    ]
  },
  "config": {
    "view": {"stroke": null},
    "axis": {"domain": false, "labelFont": "Liberation Sans", "labelFontSize": 27, "labelColor": "#4d4d4d", "tickSize": 7, "tickWidth": 1.5, "labelOverlap": false, "labelFlush": false},
    "header": {"titleFont": "Liberation Sans", "titleFontSize": 40, "titleFontWeight": "normal", "titleColor": "#000000"},
    "legend": {"orient": "right", "offset": -87, "padding": 121, "symbolType": "circle", "symbolSize": 702, "symbolStrokeWidth": 1, "symbolStrokeColor": "#333333", "symbolOffset": 4,
      "labelFont": "DejaVu Sans", "labelFontSize": 42, "labelColor": "#000000", "labelOffset": 12, "labelLimit": 600,
      "titleFont": "DejaVu Sans", "titleFontSize": 56, "titleFontWeight": "normal", "titleColor": "#000000", "titlePadding": 3, "rowPadding": 5.3}
  }
}
